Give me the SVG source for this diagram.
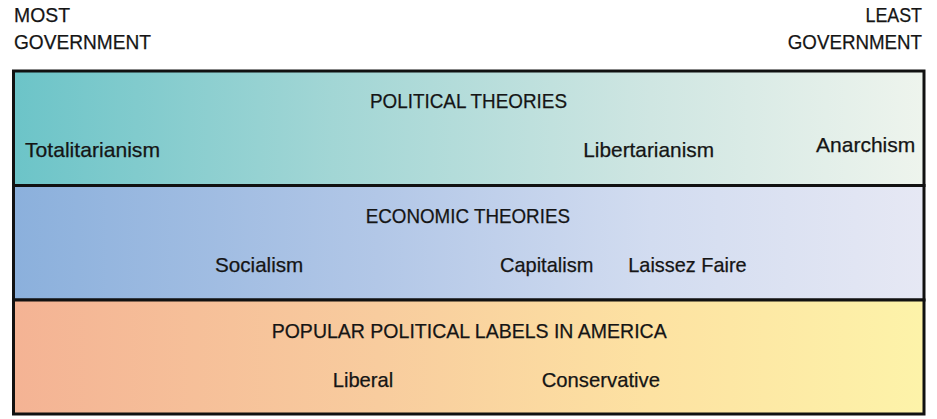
<svg xmlns="http://www.w3.org/2000/svg" width="937" height="419" viewBox="0 0 937 419">
  <defs>
    <linearGradient id="gPol" x1="0" y1="0" x2="1" y2="0">
      <stop offset="0" stop-color="#6cc4c8"/>
      <stop offset="0.35" stop-color="#a2d6d5"/>
      <stop offset="0.7" stop-color="#cfe6e2"/>
      <stop offset="1" stop-color="#eef4ed"/>
    </linearGradient>
    <linearGradient id="gEco" x1="0" y1="0" x2="1" y2="0">
      <stop offset="0" stop-color="#8bb0dc"/>
      <stop offset="0.4" stop-color="#b2c7e7"/>
      <stop offset="0.7" stop-color="#d2dcf0"/>
      <stop offset="1" stop-color="#e6e8f4"/>
    </linearGradient>
    <linearGradient id="gPop" x1="0" y1="0" x2="1" y2="0">
      <stop offset="0" stop-color="#f4b394"/>
      <stop offset="0.4" stop-color="#f8cc9e"/>
      <stop offset="0.7" stop-color="#fde2a2"/>
      <stop offset="1" stop-color="#fdf3a9"/>
    </linearGradient>
  </defs>
  <style>
    text { font-family: "Liberation Sans", Arial, sans-serif; font-size: 21px; fill: #151515; stroke: #151515; stroke-width: 0.25; }
    .band { stroke: #111; stroke-width: 3; }
  </style>

  <!-- axis end labels -->
  <g id="axis-labels">
    <text x="14" y="21.5" textLength="56" lengthAdjust="spacingAndGlyphs">MOST</text>
    <text x="14" y="49.3" textLength="137" lengthAdjust="spacingAndGlyphs">GOVERNMENT</text>
    <text x="865.5" y="21.5" textLength="56.5" lengthAdjust="spacingAndGlyphs">LEAST</text>
    <text x="787.8" y="49.3" textLength="134.2" lengthAdjust="spacingAndGlyphs">GOVERNMENT</text>
  </g>

  <!-- political theories band -->
  <g id="political-theories">
    <rect class="band" x="13.5" y="71" width="910.5" height="114.5" fill="url(#gPol)"/>
    <text x="370" y="108" textLength="197" lengthAdjust="spacingAndGlyphs">POLITICAL THEORIES</text>
    <text x="25" y="157.3" textLength="135" lengthAdjust="spacingAndGlyphs">Totalitarianism</text>
    <text x="583.3" y="156.7" textLength="130.7" lengthAdjust="spacingAndGlyphs">Libertarianism</text>
    <text x="816" y="152.3" textLength="99.3" lengthAdjust="spacingAndGlyphs">Anarchism</text>
  </g>

  <!-- economic theories band -->
  <g id="economic-theories">
    <rect class="band" x="13.5" y="185.5" width="910.5" height="114.5" fill="url(#gEco)"/>
    <text x="365.7" y="223.3" textLength="204.3" lengthAdjust="spacingAndGlyphs">ECONOMIC THEORIES</text>
    <text x="215" y="272.3" textLength="88.3" lengthAdjust="spacingAndGlyphs">Socialism</text>
    <text x="500" y="272.3" textLength="93.3" lengthAdjust="spacingAndGlyphs">Capitalism</text>
    <text x="628.3" y="272.3" textLength="118.4" lengthAdjust="spacingAndGlyphs">Laissez Faire</text>
  </g>

  <!-- popular political labels band -->
  <g id="popular-labels">
    <rect class="band" x="13.5" y="300" width="910.5" height="114" fill="url(#gPop)"/>
    <text x="271.7" y="338.3" textLength="395" lengthAdjust="spacingAndGlyphs">POPULAR POLITICAL LABELS IN AMERICA</text>
    <text x="332.7" y="387.3" textLength="60.6" lengthAdjust="spacingAndGlyphs">Liberal</text>
    <text x="541.7" y="387.3" textLength="118.3" lengthAdjust="spacingAndGlyphs">Conservative</text>
  </g>

  <!-- no connectors in this chart -->
  <g id="connectors"/>
</svg>
